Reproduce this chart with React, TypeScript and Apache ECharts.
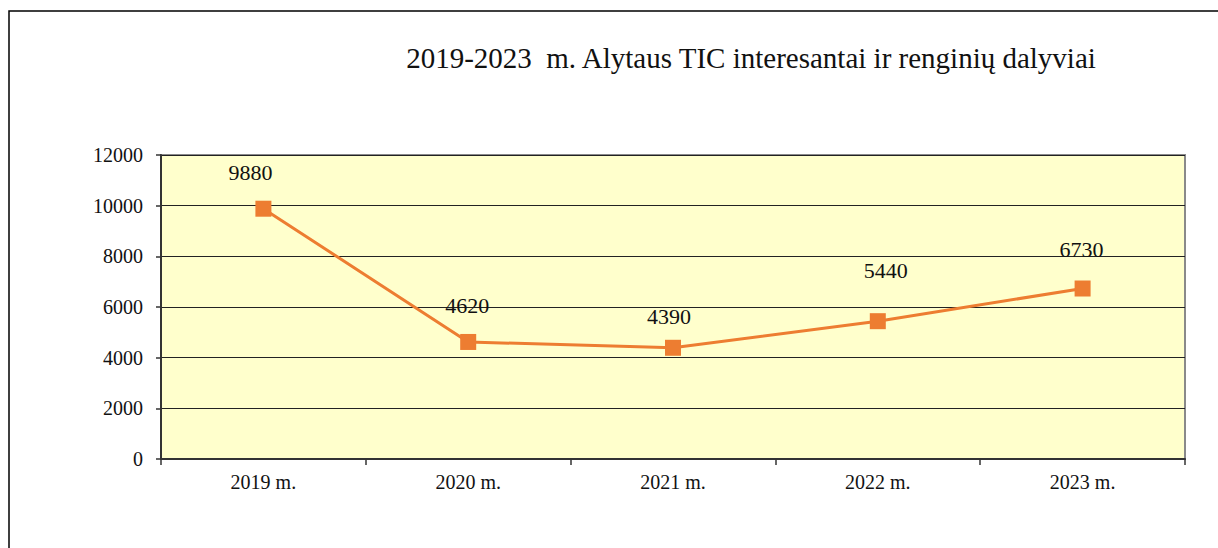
import React, { useEffect, useRef } from "react";
import * as echarts from "echarts";

const titleText = "2019-2023  m. Alytaus TIC interesantai ir renginių dalyviai";
const categories = ["2019 m.", "2020 m.", "2021 m.", "2022 m.", "2023 m."];
const values = [9880, 4620, 4390, 5440, 6730];
const yTicks = { min: 0, max: 12000, interval: 2000 };
// label placement tweaks (pixels), matching the original layout
const labelOffsets = [[-13, -36], [-1, -36], [-4, -31], [8, -51], [-1, -39]];

const FONT = "Liberation Serif";

export default function App() {
  const ref = useRef<HTMLDivElement>(null);
  useEffect(() => {
    if (!ref.current) return;
    const chart = echarts.init(ref.current, undefined, { renderer: "svg" });
    chart.setOption({
      animation: false,
      backgroundColor: "#ffffff",
      title: {
        text: titleText,
        left: 746,
        top: 38,
        textAlign: "center",
        textStyle: { fontFamily: FONT, fontSize: 29, fontWeight: "normal", color: "#111" },
      },
      graphic: [
        {
          type: "polyline",
          shape: { points: [[9, 548], [9, 11], [1218, 11]] },
          style: { stroke: "#000", lineWidth: 1.5, fill: null },
          silent: true,
        },
      ],
      grid: {
        left: 161,
        top: 155,
        right: 33,
        bottom: 89,
        show: true,
        backgroundColor: "#FFFFCC",
        borderColor: "#8a8a8a",
        borderWidth: 2,
        containLabel: false,
      },
      xAxis: {
        type: "category",
        data: categories,
        boundaryGap: true,
        axisLine: { lineStyle: { color: "#333", width: 2 } },
        axisTick: { show: true, length: 6, inside: false, lineStyle: { color: "#333", width: 1.5 } },
        axisLabel: { fontFamily: FONT, fontSize: 20, color: "#111", margin: 13 },
        splitLine: { show: false },
      },
      yAxis: {
        type: "value",
        min: yTicks.min,
        max: yTicks.max,
        interval: yTicks.interval,
        axisLine: { show: true, lineStyle: { color: "#333", width: 2 } },
        axisTick: { show: true, length: 5, lineStyle: { color: "#333", width: 1.5 } },
        axisLabel: {
          fontFamily: FONT,
          fontSize: 20,
          color: "#111",
          margin: 18,
          formatter: (v: number) => String(v),
        },
        splitLine: { show: true, lineStyle: { color: "#222", width: 1 } },
      },
      series: [
        {
          type: "line",
          data: values.map((v, i) => ({
            value: v,
            label: { offset: labelOffsets[i] },
          })),
          symbol: "rect",
          symbolSize: 16,
          lineStyle: { color: "#ED7D31", width: 3 },
          itemStyle: { color: "#ED7D31" },
          label: {
            show: true,
            position: "inside",
            fontFamily: FONT,
            fontSize: 22,
            color: "#111",
          },
        },
      ],
    });
    return () => chart.dispose();
  }, []);
  return (
    <div
      ref={ref}
      style={{ position: "fixed", left: 0, top: 0, width: 1218, height: 548, background: "#fff" }}
    />
  );
}
